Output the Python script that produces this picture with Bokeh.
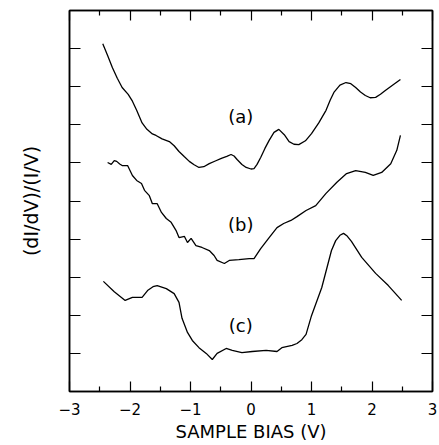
from bokeh.plotting import figure
from bokeh.models import Range1d, LinearAxis, FixedTicker, Label, CustomLabelingPolicy
from bokeh.embed import file_html
from bokeh.resources import INLINE

# ---- data ----
x_a = [-2.45, -2.37, -2.29, -2.21, -2.13, -2.03, -1.96, -1.89, -1.80, -1.72, -1.63,
       -1.57, -1.47, -1.35, -1.27, -1.19, -1.10, -1.02, -0.94, -0.86, -0.78, -0.69,
       -0.59, -0.49, -0.40, -0.33, -0.28, -0.23, -0.15, -0.08, 0.00, 0.05, 0.10,
       0.16, 0.23, 0.30, 0.38, 0.46, 0.55, 0.63, 0.71, 0.79, 0.90, 1.00, 1.12,
       1.24, 1.31, 1.37, 1.47, 1.57, 1.65, 1.73, 1.81, 1.89, 1.97, 2.06, 2.14,
       2.22, 2.35, 2.47]
y_a = [9.13, 8.82, 8.50, 8.22, 7.98, 7.80, 7.62, 7.38, 7.05, 6.88, 6.76,
       6.72, 6.63, 6.56, 6.45, 6.30, 6.16, 6.04, 5.95, 5.88, 5.90, 5.98,
       6.05, 6.12, 6.17, 6.22, 6.18, 6.09, 5.96, 5.88, 5.84, 5.85, 5.96,
       6.14, 6.38, 6.59, 6.80, 6.88, 6.74, 6.56, 6.49, 6.48, 6.58, 6.77, 7.05,
       7.38, 7.65, 7.85, 8.04, 8.11, 8.08, 7.98, 7.86, 7.77, 7.71, 7.72, 7.80,
       7.90, 8.05, 8.19]

x_b = [-2.37, -2.31, -2.26, -2.22, -2.17, -2.13, -2.04, -1.96, -1.89, -1.81, -1.76,
       -1.68, -1.63, -1.55, -1.48, -1.40, -1.32, -1.24, -1.19, -1.10, -1.05, -0.99,
       -0.91, -0.81, -0.69, -0.61, -0.56, -0.44, -0.36, -0.20, -0.03, 0.05, 0.16,
       0.30, 0.43, 0.54, 0.66, 0.76, 0.91, 1.07, 1.24, 1.42, 1.58, 1.73, 1.89,
       2.02, 2.16, 2.31, 2.41, 2.47]
y_b = [6.01, 5.96, 6.06, 6.04, 5.97, 5.93, 5.93, 5.67, 5.54, 5.46, 5.28,
       5.14, 4.93, 4.93, 4.70, 4.54, 4.44, 4.23, 4.04, 4.07, 3.91, 4.02,
       3.83, 3.78, 3.70, 3.57, 3.44, 3.36, 3.44, 3.46, 3.49, 3.49, 3.75,
       4.04, 4.30, 4.41, 4.49, 4.59, 4.75, 4.88, 5.20, 5.49, 5.72, 5.80, 5.75,
       5.67, 5.75, 5.98, 6.33, 6.72]

x_c = [-2.44, -2.26, -2.08, -1.96, -1.80, -1.71, -1.62, -1.55, -1.40, -1.27, -1.19,
       -1.14, -1.05, -0.97, -0.86, -0.74, -0.64, -0.56, -0.41, -0.31, -0.15, 0.02,
       0.25, 0.43, 0.51, 0.68, 0.76, 0.84, 0.91, 1.00, 1.17, 1.33, 1.40, 1.47,
       1.53, 1.59, 1.66, 1.83, 2.06, 2.27, 2.49]
y_c = [2.89, 2.62, 2.39, 2.47, 2.47, 2.65, 2.75, 2.78, 2.70, 2.57, 2.34,
       1.92, 1.55, 1.34, 1.15, 1.00, 0.84, 1.00, 1.13, 1.08, 1.02, 1.05,
       1.08, 1.05, 1.15, 1.21, 1.26, 1.36, 1.50, 1.99, 2.73, 3.70, 3.96, 4.10,
       4.15, 4.08, 3.94, 3.52, 3.10, 2.78, 2.39]

curve_labels = ["(a)", "(b)", "(c)"]
label_x = [-0.17, -0.17, -0.17]
label_y = [7.23, 4.38, 1.73]

x_major = [-3, -2, -1, 0, 1, 2, 3]
x_minor = [-2.5, -1.5, -0.5, 0.5, 1.5, 2.5]
y_major = [1, 2, 3, 4, 5, 6, 7, 8, 9]

FONT = "DejaVu Sans"

p = figure(frame_width=363, frame_height=381, output_backend="svg",
           toolbar_location=None, x_range=Range1d(-3, 3), y_range=Range1d(0, 10),
           x_axis_location=None, y_axis_location=None,
           min_border_left=69, min_border_right=7, min_border_top=10,
           min_border_bottom=54)
p.background_fill_color = "white"
p.border_fill_color = "white"
p.outline_line_color = "black"
p.outline_line_width = 1.5
p.xgrid.visible = False
p.ygrid.visible = False

no_labels = CustomLabelingPolicy(code="""
    for (const i of indices) indices.unset(i)
    return indices
""")


def style_axis(ax, labels=False):
    ax.axis_line_color = "black"
    ax.axis_line_width = 1.5
    ax.major_tick_in = 10
    ax.major_tick_out = 0
    ax.minor_tick_in = 5
    ax.minor_tick_out = 0
    ax.major_tick_line_color = "black"
    ax.minor_tick_line_color = "black"
    ax.major_tick_line_width = 1.2
    ax.minor_tick_line_width = 1.2
    if not labels:
        ax.major_label_policy = no_labels
        ax.major_label_text_font_size = "0px"
        ax.major_label_standoff = 0


bottom = LinearAxis(ticker=FixedTicker(ticks=x_major, minor_ticks=x_minor))
style_axis(bottom, labels=True)
bottom.major_label_text_font = FONT
bottom.major_label_text_font_size = "15px"
bottom.major_label_text_color = "black"
bottom.major_label_standoff = 11
bottom.major_label_overrides = {v: ("\u2212" + str(abs(v)) if v < 0 else str(v)) for v in x_major}
bottom.axis_label = "SAMPLE BIAS (V)"
bottom.axis_label_text_font = FONT
bottom.axis_label_text_font_size = "18px"
bottom.axis_label_text_font_style = "normal"
bottom.axis_label_text_color = "black"
bottom.axis_label_standoff = 3
p.add_layout(bottom, "below")

top = LinearAxis(ticker=FixedTicker(ticks=x_major, minor_ticks=x_minor))
style_axis(top)
p.add_layout(top, "above")

left = LinearAxis(ticker=FixedTicker(ticks=y_major, minor_ticks=[]))
style_axis(left)
left.major_tick_in = 11
left.axis_label = "(dI/dV)/(I/V)"
left.axis_label_text_font = FONT
left.axis_label_text_font_size = "19px"
left.axis_label_text_font_style = "normal"
left.axis_label_text_color = "black"
left.axis_label_standoff = 28
p.add_layout(left, "left")

right = LinearAxis(ticker=FixedTicker(ticks=y_major, minor_ticks=[]))
style_axis(right)
right.major_tick_in = 11
p.add_layout(right, "right")

for xs, ys in ((x_a, y_a), (x_b, y_b), (x_c, y_c)):
    p.line(xs, ys, line_color="black", line_width=1.3)

for t, lx, ly in zip(curve_labels, label_x, label_y):
    p.add_layout(Label(x=lx, y=ly, text=t, text_font=FONT, text_font_size="18px",
                       text_align="center", text_baseline="middle",
                       text_color="black"))

open("out.html", "w").write(file_html(p, INLINE))
